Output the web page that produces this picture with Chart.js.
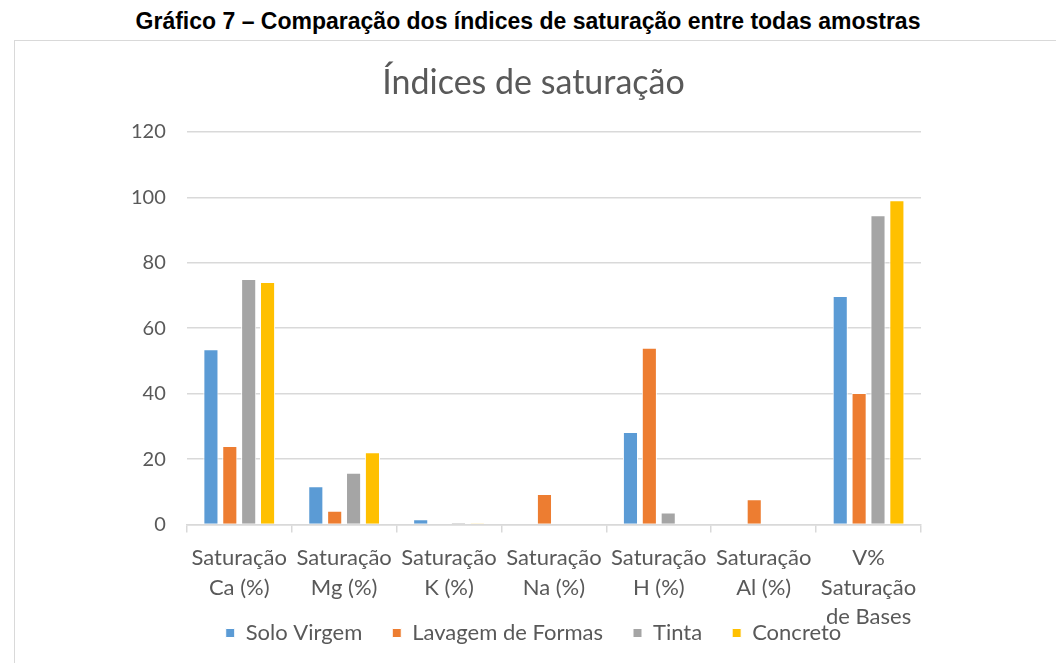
<!DOCTYPE html>
<html>
<head>
<meta charset="utf-8">
<script src="https://cdn.jsdelivr.net/npm/chart.js@4/dist/chart.umd.min.js"></script>
<style>
  body { margin: 0; background: #fff; width: 1056px; height: 663px; overflow: hidden; position: relative; }
  #heading {
    position: absolute; left: 0; top: 8px; width: 1056px; text-align: center;
    font-family: "Liberation Sans", Arial, sans-serif; font-weight: bold; font-size: 23px; color: #000;
  }
  #frame {
    position: absolute; left: 14px; top: 40px; width: 1042px; height: 623px;
    border-left: 1px solid #d9d9d9; border-top: 1px solid #d9d9d9;
  }
</style>
</head>
<body>
<div id="heading">Gráfico 7 – Comparação dos índices de saturação entre todas amostras</div>
<div id="frame"><canvas id="sat-chart"></canvas></div>
<script>
const satCanvas = document.getElementById('sat-chart');

// categorias (eixo x)
const categories = [
  ["Saturação", "Ca (%)"],
  ["Saturação", "Mg (%)"],
  ["Saturação", "K (%)"],
  ["Saturação", "Na (%)"],
  ["Saturação", "H (%)"],
  ["Saturação", "Al (%)"],
  ["V%", "Saturação", "de Bases"]
];

// valores
const soloVirgem = [53.6, 11.7, 1.6, 0, 28.3, 0, 69.8];
const lavagemFormas = [24.0, 4.2, 0, 9.3, 54.0, 7.7, 40.2];
const tinta = [75.0, 15.8, 0.5, 0, 3.7, 0, 94.5];
const concreto = [74.1, 22.1, 0.4, 0, 0, 0, 99.1];

const yTicks = [0, 20, 40, 60, 80, 100, 120];

const textColor = '#595959';
const gridColor = '#d9d9d9';
const fontName = 'Lato';

let satData = {
  labels: categories,
  datasets: [
    { label: 'Solo Virgem', data: soloVirgem, backgroundColor: '#5B9BD5' },
    { label: 'Lavagem de Formas', data: lavagemFormas, backgroundColor: '#ED7D31' },
    { label: 'Tinta', data: tinta, backgroundColor: '#A5A5A5' },
    { label: 'Concreto', data: concreto, backgroundColor: '#FFC000' }
  ]
};
satData.datasets.forEach(ds => {
  ds.borderColor = '#ffffff';
  ds.borderWidth = 1;
  ds.categoryPercentage = 0.72;
  ds.barPercentage = 0.8;
});

// sobe a legenda para junto dos rotulos do eixo x (como no Excel)
const legendUp = {
  id: 'legendUp',
  afterLayout(chart) {
    chart.legend.top -= 40;
    chart.legend.bottom -= 40;
  }
};

let satOptions = {
  responsive: true,
  maintainAspectRatio: false,
  animation: false,
  layout: {
    padding: { left: 95, right: 100, top: 22, bottom: -30 }
  },
  scales: {
    x: {
      grid: {
        display: true,
        drawOnChartArea: false,
        drawTicks: true,
        tickLength: 8,
        color: gridColor,
        lineWidth: 1.5
      },
      border: { display: true, color: gridColor, width: 1.5 },
      ticks: {
        color: textColor,
        font: { family: fontName, size: 22, lineHeight: 1.34 },
        maxRotation: 0,
        autoSkip: false,
        padding: 11
      },
      afterFit: scale => { scale.height -= 11; }
    },
    y: {
      min: 0,
      max: 120,
      afterBuildTicks: axis => {
        axis.ticks = yTicks.map(v => ({ value: v }));
      },
      grid: { color: gridColor, lineWidth: 1.5, drawTicks: false },
      border: { display: false },
      ticks: {
        color: textColor,
        font: { family: fontName, size: 20 },
        padding: 21
      }
    },
    // eixo vazio a direita so para o titulo ficar centrado como no original
    yR: {
      type: 'linear',
      position: 'right',
      grid: { display: false },
      border: { display: false },
      ticks: { display: false },
      afterFit: scale => { scale.width = 36; }
    }
  },
  plugins: {
    title: {
      display: true,
      text: 'Índices de saturação',
      color: textColor,
      font: { family: fontName, size: 34, weight: 'normal' },
      padding: { top: 0, bottom: 28 }
    },
    legend: {
      position: 'bottom',
      labels: {
        color: textColor,
        boxWidth: 9,
        boxHeight: 9,
        padding: 30,
        font: { family: fontName, size: 22 }
      }
    },
    tooltip: { enabled: false }
  }
};

let satChart = new Chart(satCanvas, {
  type: 'bar',
  data: satData,
  options: satOptions,
  plugins: [legendUp]
});
</script>
</body>
</html>
